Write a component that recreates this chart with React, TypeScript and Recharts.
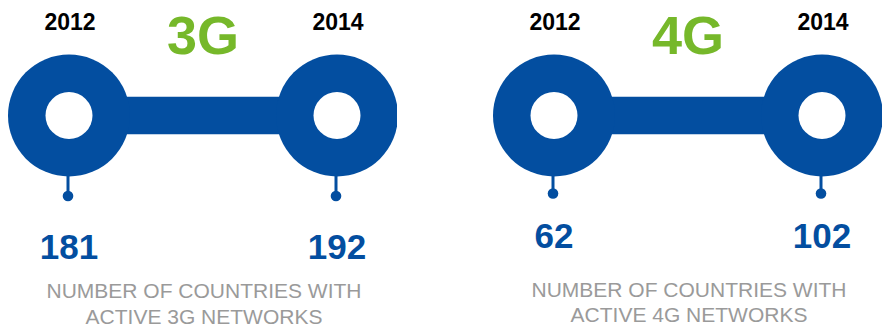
import React from 'react';
import { LineChart, Line, XAxis, YAxis, LabelList, Customized } from 'recharts';

// ---- data ----
const years = ['2012', '2014'];
const technologies = ['3G', '4G'];
const counts3G = [181, 192];
const counts4G = [62, 102];
const subtitleLine1 = ['NUMBER OF COUNTRIES WITH', 'NUMBER OF COUNTRIES WITH'];
const subtitleLine2 = ['ACTIVE 3G NETWORKS', 'ACTIVE 4G NETWORKS'];

const BLUE = '#034ea0';
const GREEN = '#76b82a';
const GRAY = '#9a9a9a';
const FONT = '"Liberation Sans", Arial, Helvetica, sans-serif';

const W = 397;
const H = 331;
const MARGIN = { top: 0, right: 60, bottom: 100, left: 69 };

type PanelStyle = { pinLen: number; valueDy: number; sub1: number; sub2: number };

const panelStyles: PanelStyle[] = [
  { pinLen: 80.5, valueDy: 143.5, sub1: 298, sub2: 324 },
  { pinLen: 78, valueDy: 132.5, sub1: 297, sub2: 322 },
];

const Donut = (props: any, st: PanelStyle) => {
  const { cx, cy, index } = props;
  if (cx == null || cy == null) return <g key={index} />;
  return (
    <g key={`d-${index}`}>
      <circle cx={cx} cy={cy} r={61} fill={BLUE} />
      <circle cx={cx} cy={cy} r={23.5} fill="#ffffff" />
      <line x1={cx - 1} y1={cy + 58} x2={cx - 1} y2={cy + st.pinLen} stroke={BLUE} strokeWidth={3} />
      <circle cx={cx - 1} cy={cy + st.pinLen} r={5.3} fill={BLUE} />
    </g>
  );
};

function Panel({ idx, counts, left }: { idx: number; counts: number[]; left: number }) {
  const st = panelStyles[idx];
  const data = years.map((year, i) => ({ year, track: 0, count: counts[i] }));
  const centerX = (MARGIN.left + (W - MARGIN.right)) / 2;
  return (
    <div style={{ position: 'absolute', left, top: 0, width: W, height: H }}>
      <LineChart width={W} height={H} data={data} margin={MARGIN} style={{ overflow: 'visible' }}>
        <XAxis dataKey="year" type="category" scale="point" padding={{ left: 0, right: 0 }} hide />
        <YAxis type="number" domain={[-1, 1]} hide />
        <Customized
          component={
            <g>
              <text x={centerX} y={54} textAnchor="middle" fontFamily={FONT} fontWeight="bold" fontSize={54} fill={GREEN}>
                {technologies[idx]}
              </text>
              <text x={centerX + 1} y={st.sub1} textAnchor="middle" fontFamily={FONT} fontSize={21} fill={GRAY}>
                {subtitleLine1[idx]}
              </text>
              <text x={centerX + 1} y={st.sub2} textAnchor="middle" fontFamily={FONT} fontSize={21} fill={GRAY}>
                {subtitleLine2[idx]}
              </text>
            </g>
          }
        />
        <Line
          dataKey="track"
          type="linear"
          stroke={BLUE}
          strokeWidth={37.5}
          strokeLinecap="butt"
          isAnimationActive={false}
          dot={(p: any) => Donut(p, st)}
          activeDot={false}
        >
          <LabelList
            dataKey="year"
            content={(p: any) => (
              <text x={p.x + 1} y={p.y - 85.5} textAnchor="middle" fontFamily={FONT} fontWeight="bold" fontSize={23} fill="#000">
                {p.value}
              </text>
            )}
          />
          <LabelList
            dataKey="count"
            content={(p: any) => (
              <text x={p.x} y={p.y + st.valueDy} textAnchor="middle" fontFamily={FONT} fontWeight="bold" fontSize={35} fill={BLUE}>
                {p.value}
              </text>
            )}
          />
        </Line>
      </LineChart>
    </div>
  );
}

export default function App() {
  return (
    <div style={{ position: 'absolute', left: 0, top: 0, width: 882, height: 331, background: '#fff', overflow: 'hidden' }}>
      <Panel idx={0} counts={counts3G} left={0} />
      <Panel idx={1} counts={counts4G} left={485} />
    </div>
  );
}
